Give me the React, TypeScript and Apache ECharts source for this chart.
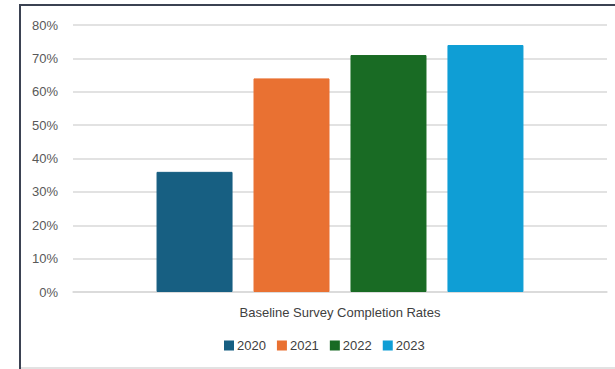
import React, { useEffect, useRef } from "react";
import * as echarts from "echarts";

const categories = ["Baseline Survey Completion Rates"];
const seriesNames = ["2020", "2021", "2022", "2023"];
const seriesValues = [[36], [64], [71], [74]];
const seriesColors = ["#175F82", "#E97132", "#196B24", "#0F9ED5"];
const yTicks = { min: 0, max: 80, interval: 10 };

export default function App() {
  const ref = useRef<HTMLDivElement>(null);
  useEffect(() => {
    if (!ref.current) return;
    const chart = echarts.init(ref.current, undefined, { renderer: "svg" });
    const font = "Liberation Sans, Arial, sans-serif";
    chart.setOption({
      animation: false,
      backgroundColor: "#ffffff",
      textStyle: { fontFamily: font },
      grid: { left: 73, right: 8, top: 25, bottom: 77, containLabel: false },
      legend: {
        data: seriesNames,
        left: 224,
        top: 339,
        padding: 0,
        itemWidth: 8,
        itemHeight: 8,
        itemGap: 11,
        icon: "rect",
        textStyle: { fontSize: 13, color: "#404040", fontFamily: font, padding: [0, 0, 0, -1] },
      },
      xAxis: {
        type: "category",
        data: categories,
        axisLine: { show: true, lineStyle: { color: "#d9d9d9", width: 1.5 } },
        axisTick: { show: false },
        axisLabel: { fontSize: 13, color: "#404040", margin: 14, fontFamily: font },
      },
      yAxis: {
        type: "value",
        min: yTicks.min,
        max: yTicks.max,
        interval: yTicks.interval,
        axisLine: { show: false },
        axisTick: { show: false },
        splitLine: { lineStyle: { color: "#d9d9d9", width: 1.5 } },
        axisLabel: { fontSize: 13, color: "#595959", margin: 15, formatter: "{value}%", fontFamily: font },
      },
      series: seriesNames.map((name, i) => ({
        name,
        type: "bar",
        data: seriesValues[i],
        barWidth: 76,
        barGap: "27.6%",
        itemStyle: { color: seriesColors[i], borderColor: seriesColors[i], borderWidth: 1 },
      })),
      graphic: [
        { type: "line", shape: { x1: 19, y1: 5, x2: 615, y2: 5 }, style: { stroke: "#3b4252", lineWidth: 2 } },
        { type: "line", shape: { x1: 20, y1: 4, x2: 20, y2: 369 }, style: { stroke: "#3b4252", lineWidth: 2 } },
        { type: "line", shape: { x1: 21, y1: 368, x2: 615, y2: 368 }, style: { stroke: "#d9d9d9", lineWidth: 1.5 } },
      ],
    });
    return () => chart.dispose();
  }, []);
  return (
    <div
      ref={ref}
      style={{ position: "absolute", left: 0, top: 0, width: 615, height: 369 }}
    />
  );
}
